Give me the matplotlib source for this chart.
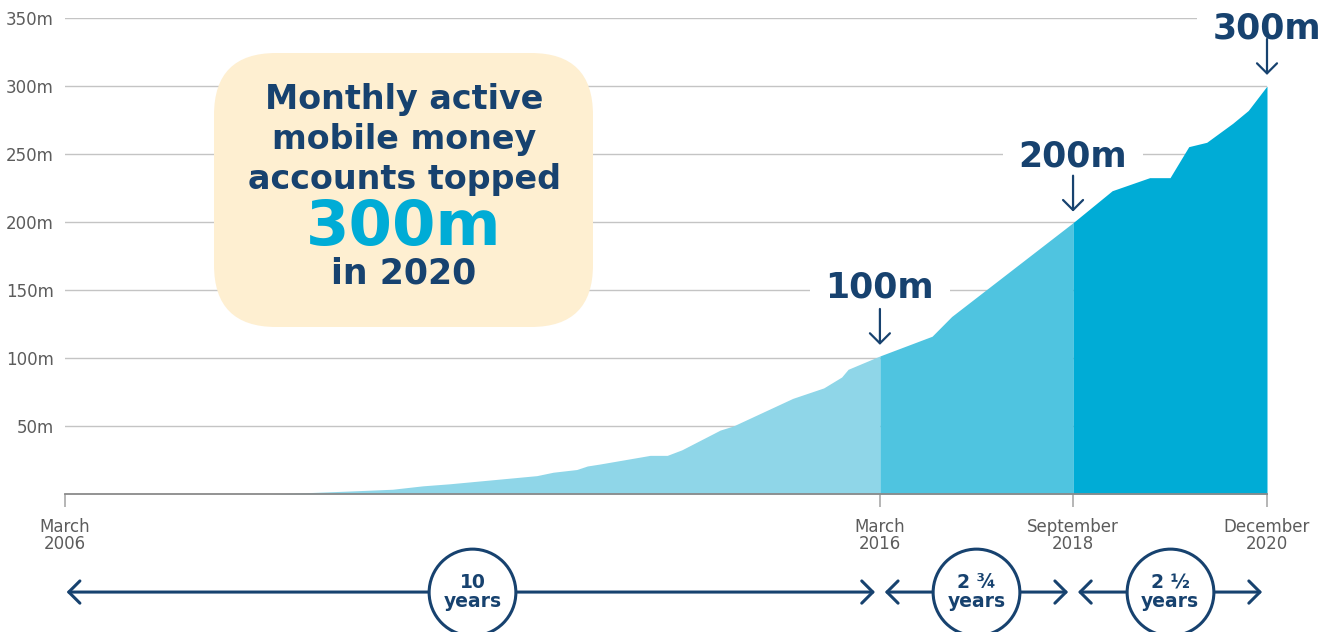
import numpy as np
import matplotlib
matplotlib.use('Agg')
import matplotlib.pyplot as plt
from matplotlib.patches import FancyBboxPatch

# monthly active mobile money accounts (millions)
years = [2006.17, 2008.69, 2008.93, 2009.67, 2010.19, 2010.56, 2010.89, 2011.96,
         2012.16, 2012.45, 2012.58, 2012.73, 2013.35, 2013.56, 2013.74, 2014.21,
         2014.37, 2015.10, 2015.48, 2015.70, 2015.78, 2016.17, 2016.81, 2017.05,
         2018.54, 2019.02, 2019.48, 2019.73, 2019.96, 2020.18, 2020.50, 2020.69,
         2020.92]
accounts = [0, 0, 0.5, 2.2, 3.5, 6, 7.5, 13.5,
            16, 18, 20.6, 22, 28.4, 28.4, 32.5, 47,
            50, 70.3, 78, 86, 91.7, 101.5, 116, 130.5,
            199.5, 223, 232.6, 232.6, 255.4, 258.6, 272.6, 282,
            300]

milestones = [2006.17, 2016.17, 2018.54, 2020.92]
milestone_labels = ['March\n2006', 'March\n2016', 'September\n2018', 'December\n2020']
callouts = ['100m', '200m', '300m']
periods = ['10\nyears', '2 \u00be\nyears', '2 \u00bd\nyears']
yticks = [50, 100, 150, 200, 250, 300, 350]

navy = '#17426f'
grey = '#5c5c5c'
fills = ['#8fd6e8', '#4fc4e0', '#00acd6']

x = np.array(years)
y = np.array(accounts)

fig = plt.figure(figsize=(13.35, 6.32), dpi=100)
W, H = 1335, 632
ax = fig.add_axes([65 / W, 1 - 494 / H, (1267 - 65) / W, (494 - 18) / H])

for i in range(3):
    m = (x >= milestones[i]) & (x <= milestones[i + 1])
    ax.fill_between(x[m], y[m], color=fills[i], lw=0, zorder=2)

ax.set_xlim(milestones[0], milestones[-1])
ax.set_ylim(0, 350)
ax.set_yticks(yticks)
ax.set_yticklabels(['%dm' % v for v in yticks])
ax.set_xticks(milestones)
ax.set_xticklabels(milestone_labels, linespacing=0.95)
ax.grid(axis='y', color='#c4c4c4', lw=1.0, zorder=0.5)
ax.set_axisbelow(True)
for s in ['top', 'right', 'left']:
    ax.spines[s].set_visible(False)
ax.spines['bottom'].set_color('#8a8a8a')
ax.spines['bottom'].set_linewidth(1.3)
ax.tick_params(axis='y', length=0, pad=8, labelsize=12, labelcolor=grey)
ax.tick_params(axis='x', length=9, width=1.3, color='#b0b0b0', pad=8,
               labelsize=12, labelcolor=grey)

# callouts with arrows
text_off = [68, 66, 57]
for i, lab in enumerate(callouts):
    mx = milestones[i + 1]
    mv = np.interp(mx, x, y)
    ax.annotate('', xy=(mx, mv), xytext=(0, 47), textcoords='offset pixels',
                arrowprops=dict(arrowstyle='->,head_length=0.36,head_width=0.36',
                                mutation_scale=20, lw=1.6, color=navy,
                                shrinkA=0, shrinkB=8), zorder=3)
    ax.annotate(lab, xy=(mx, mv), xytext=(0, text_off[i]), textcoords='offset pixels',
                ha='center', va='center', fontsize=25, fontweight='bold', color=navy,
                bbox=dict(boxstyle='square,pad=0.45', fc='white', ec='none'),
                zorder=1.5, annotation_clip=False)

# period arrows and circles below the axis
tr = ax.get_xaxis_transform()
ay = -0.206
gap = 0.06
for i, lab in enumerate(periods):
    x0 = milestones[i] + (0.02 if i == 0 else gap)
    x1 = milestones[i + 1] - gap
    ax.annotate('', xy=(x1, ay), xytext=(x0, ay), xycoords=tr, textcoords=tr,
                arrowprops=dict(arrowstyle='<->,head_length=0.4,head_width=0.4',
                                mutation_scale=20, lw=2.2, color=navy,
                                shrinkA=0, shrinkB=0), annotation_clip=False)
    xm = (milestones[i] + milestones[i + 1]) / 2
    ax.scatter([xm], [ay], s=3900, marker='o', facecolor='white', edgecolor=navy,
               linewidth=2.2, transform=tr, clip_on=False, zorder=5)
    ax.text(xm, ay, lab, transform=tr, ha='center', va='center', fontsize=13.5,
            fontweight='bold', color=navy, linespacing=0.95, zorder=6)

# headline box
box = FancyBboxPatch((2.14, 3.05), 3.79, 2.74,
                     boxstyle='round,pad=0,rounding_size=0.62',
                     transform=fig.dpi_scale_trans, fc='#feefd1', ec='none', zorder=2)
fig.add_artist(box)
cx = 404 / W
lines = [('Monthly active', 100, 24, navy), ('mobile money', 140, 24, navy),
         ('accounts topped', 180, 24, navy), ('300m', 228, 45, '#00acd6'),
         ('in 2020', 274, 25, navy)]
for t, py, fs, c in lines:
    fig.text(cx, 1 - py / H, t, ha='center', va='center', fontsize=fs,
             fontweight='bold', color=c, zorder=3)

fig.savefig('out.png', dpi=100)
